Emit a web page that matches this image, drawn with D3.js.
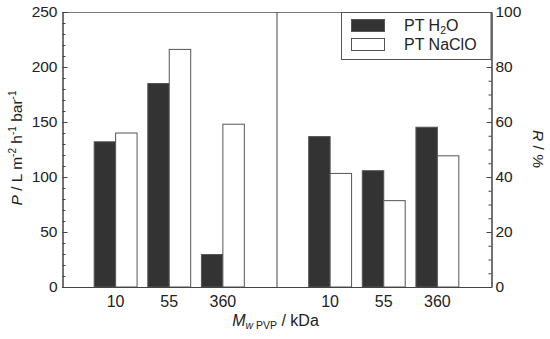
<!DOCTYPE html>
<html>
<head>
<meta charset="utf-8">
<script src="https://cdn.jsdelivr.net/npm/d3@7"></script>
<style>
  body { margin: 0; background: #fff; }
  svg text { font-family: "Liberation Sans", Arial, sans-serif; fill: #222; }
</style>
</head>
<body>
<div id="chart"></div>
<script>
// categories (molecular weight of PVP, kDa)
const categories = ['10', '55', '360'];
// permeance, left axis
const permH2O = [132, 185, 29.5];
const permNaClO = [140, 216, 148];
// rejection, right axis
const rejH2O = [54.7, 42.3, 58.1];
const rejNaClO = [41.3, 31.4, 47.7];
const leftTicks = [0, 50, 100, 150, 200, 250];
const rightTicks = [0, 20, 40, 60, 80, 100];
const seriesNames = ['PT H₂O', 'PT NaClO'];

const width = 550, height = 339;
const m = {left: 62, right: 491, top: 12, bottom: 287};
const fs = 15.5;

const svg = d3.select('#chart').append('svg')
  .attr('width', width)
  .attr('height', height);

// slots: padding, left group, middle divider, right group, padding
const slots = ['s0', 'L10', 'L55', 'L360', 'mid', 'R10', 'R55', 'R360', 's8'];
const x = d3.scalePoint().domain(slots).range([m.left, m.right]);
const barW = x.step() * 0.4;

const yL = d3.scaleLinear().domain([0, 250]).range([m.bottom, m.top]);
const yR = d3.scaleLinear().domain([0, 100]).range([m.bottom, m.top]);

// bars
function drawBars(keys, vals, y, fill, offset) {
  svg.append('g').selectAll('rect')
    .data(vals)
    .enter()
    .append('rect')
    .attr('x', (d, i) => x(keys[i]) + offset)
    .attr('y', d => y(d))
    .attr('width', barW)
    .attr('height', d => m.bottom - y(d))
    .attr('fill', fill)
    .attr('stroke', '#555')
    .attr('stroke-width', 1);
}
const leftKeys = categories.map(c => 'L' + c);
const rightKeys = categories.map(c => 'R' + c);
drawBars(leftKeys, permH2O, yL, '#333', -barW);
drawBars(leftKeys, permNaClO, yL, '#fff', 0);
drawBars(rightKeys, rejH2O, yR, '#333', -barW);
drawBars(rightKeys, rejNaClO, yR, '#fff', 0);

// frame
svg.append('line')
  .attr('x1', m.left).attr('x2', m.right)
  .attr('y1', m.top + 0.5).attr('y2', m.top + 0.5)
  .attr('stroke', '#777');
svg.append('line')
  .attr('x1', m.left).attr('x2', m.right)
  .attr('y1', m.bottom + 0.5).attr('y2', m.bottom + 0.5)
  .attr('stroke', '#444');
svg.append('line')
  .attr('x1', x('mid') + 0.5).attr('x2', x('mid') + 0.5)
  .attr('y1', m.top).attr('y2', m.bottom)
  .attr('stroke', '#444');

// left axis, ticks pointing inward
const gL = svg.append('g')
  .attr('transform', `translate(${m.left + 0.5},0)`)
  .call(d3.axisLeft(yL).tickValues(leftTicks).tickSize(-5).tickPadding(5));
gL.append('g')
  .call(d3.axisLeft(yL).tickValues(d3.range(0, 251, 10)).tickSize(-3).tickFormat(''));
// right axis
const gR = svg.append('g')
  .attr('transform', `translate(${m.right + 0.5},0)`)
  .call(d3.axisRight(yR).tickValues(rightTicks).tickSize(-5).tickPadding(4));
gR.append('g')
  .call(d3.axisRight(yR).tickValues(d3.range(0, 101, 5)).tickSize(-3).tickFormat(''));

svg.selectAll('.domain').attr('stroke', '#444');
svg.selectAll('.tick line').attr('stroke', '#444');
svg.selectAll('.tick text')
  .attr('font-size', fs)
  .attr('font-family', '"Liberation Sans", Arial, sans-serif')
  .attr('fill', '#222');

// category labels
svg.append('g').selectAll('text')
  .data(leftKeys.concat(rightKeys))
  .enter()
  .append('text')
  .attr('x', d => x(d))
  .attr('y', 307)
  .attr('text-anchor', 'middle')
  .attr('font-size', 16)
  .text(d => d.slice(1));

// axis titles
const xt = svg.append('text')
  .attr('x', x('mid') - 1)
  .attr('y', 326)
  .attr('text-anchor', 'middle')
  .attr('font-size', 16);
xt.append('tspan').attr('font-style', 'italic').text('M');
xt.append('tspan').attr('font-size', 10.5).attr('dy', 3).attr('font-style', 'italic').text('w');
xt.append('tspan').attr('font-size', 10.5).text(' PVP');
xt.append('tspan').attr('dy', -3).text(' / kDa');

const yt = svg.append('text')
  .attr('transform', 'translate(22,148) rotate(-90)')
  .attr('text-anchor', 'middle')
  .attr('font-size', 15.5);
yt.append('tspan').attr('font-style', 'italic').text('P');
yt.append('tspan').text(' / L m');
yt.append('tspan').attr('font-size', 10).attr('dy', -6).text('-2');
yt.append('tspan').attr('dy', 6).text(' h');
yt.append('tspan').attr('font-size', 10).attr('dy', -6).text('-1');
yt.append('tspan').attr('dy', 6).text(' bar');
yt.append('tspan').attr('font-size', 10).attr('dy', -6).text('-1');

const rt = svg.append('text')
  .attr('transform', 'translate(533,149) rotate(90)')
  .attr('text-anchor', 'middle')
  .attr('font-size', 15.5);
rt.append('tspan').attr('font-style', 'italic').text('R');
rt.append('tspan').text(' / %');

// legend
const lg = svg.append('g');
lg.append('rect')
  .attr('x', 341.5).attr('y', m.top + 0.5)
  .attr('width', m.right - 341.5).attr('height', 47)
  .attr('fill', '#fff').attr('stroke', '#555');
const fills = ['#333', '#fff'];
seriesNames.forEach((name, i) => {
  lg.append('rect')
    .attr('x', 351.5).attr('y', 19.5 + i * 19)
    .attr('width', 33).attr('height', 12)
    .attr('fill', fills[i]).attr('stroke', '#555');
  const t = lg.append('text')
    .attr('x', 404).attr('y', 31 + i * 19)
    .attr('font-size', 16);
  if (i === 0) {
    t.append('tspan').text('PT H');
    t.append('tspan').attr('font-size', 10.5).attr('dy', 3).text('2');
    t.append('tspan').attr('dy', -3).text('O');
  } else {
    t.text(name);
  }
});
</script>
</body>
</html>
